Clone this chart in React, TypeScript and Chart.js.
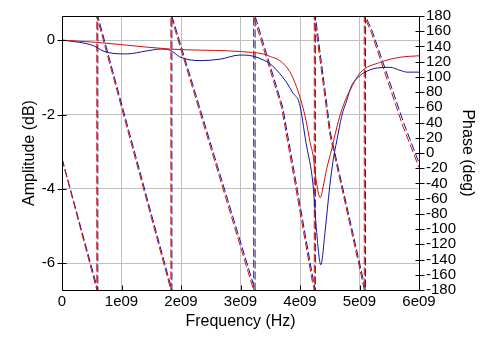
import React, { useEffect, useRef } from "react";
import { Chart, registerables } from "chart.js";

Chart.register(...registerables);

const GHZ = 1e9;

// Axis ticks
const xTickValues = [0, 1, 2, 3, 4, 5, 6];
const xTickLabels = ["0", "1e09", "2e09", "3e09", "4e09", "5e09", "6e09"];
const ampTicks = [-6, -4, -2, 0];
const phaseTicks = [-180, -160, -140, -120, -100, -80, -60, -40, -20, 0, 20, 40, 60, 80, 100, 120, 140, 160, 180];

// Amplitude (dB), frequency in GHz units (x 1e9)
const redAmpFreq = [0, 0.59, 1.0, 1.82, 2.82, 3.2, 3.38, 3.5, 3.66, 3.83, 3.94, 4.03, 4.1, 4.17, 4.22, 4.27, 4.34, 4.39, 4.45, 4.53, 4.65, 4.76, 4.84, 5.01, 5.34, 5.68, 6.0];
const redAmp = [0, -0.06, -0.12, -0.24, -0.29, -0.33, -0.37, -0.44, -0.55, -0.85, -1.25, -1.7, -2.15, -2.75, -3.1, -3.75, -4.24, -3.93, -3.45, -2.95, -2.15, -1.62, -1.35, -0.88, -0.6, -0.46, -0.42];

const blueAmpFreq = [0, 0.3, 0.53, 0.69, 0.89, 1.09, 1.42, 1.65, 1.82, 1.98, 2.32, 2.66, 2.99, 3.21, 3.38, 3.5, 3.66, 3.78, 3.88, 3.99, 4.1, 4.22, 4.28, 4.35, 4.42, 4.5, 4.56, 4.62, 4.7, 4.79, 4.86, 5.01, 5.09, 5.29, 5.51, 5.68, 5.8, 6.0];
const blueAmp = [0, -0.06, -0.15, -0.29, -0.36, -0.37, -0.29, -0.24, -0.27, -0.45, -0.55, -0.51, -0.4, -0.43, -0.53, -0.64, -0.9, -1.15, -1.42, -1.7, -2.75, -3.9, -5.17, -6.04, -5.17, -3.93, -3.2, -2.69, -2.05, -1.6, -1.25, -0.95, -0.86, -0.75, -0.73, -0.81, -0.86, -0.86];

// Phase (deg), wrapped to [-180, 180]
const redPhaseFreq = [0, 0.585, 0.585, 1.83, 1.83, 3.22, 3.22, 3.69, 4.21, 4.24, 4.24, 4.45, 4.5, 5.01, 5.08, 5.08, 5.2, 5.73, 6.0];
const redPhase = [-8, -180, 180, -180, 180, -180, 180, 60, -170, -180, 180, 55, 25, -154, -180, 180, 158, 35, -19];

const bluePhaseFreq = [0, 0.602, 0.602, 1.847, 1.847, 3.245, 3.245, 3.71, 4.225, 4.258, 4.258, 4.465, 4.515, 5.025, 5.1, 5.1, 5.215, 5.75, 6.0];
const bluePhase = [-7, -180, 180, -180, 180, -180, 180, 60, -168, -180, 180, 55, 25, -153, -180, 180, 160, 38, -13];

const RED = "#cc1111";
const BLUE = "#13139c";
const GRID = "#c0c0c0";

const toPoints = (f: number[], v: number[]) => f.map((x, i) => ({ x: x * GHZ, y: v[i] }));

const framePlugin = {
  id: "frameTicks",
  afterDraw(chart: any) {
    const { ctx, chartArea: ca, scales } = chart;
    const L = Math.round(ca.left) + 0.5;
    const R = Math.round(ca.right) + 0.5;
    const T = Math.round(ca.top) + 0.5;
    const B = Math.round(ca.bottom) + 0.5;
    ctx.save();
    ctx.strokeStyle = "#000";
    ctx.lineWidth = 1;
    ctx.beginPath();
    ctx.rect(L, T, R - L, B - T);
    ctx.stroke();
    ctx.beginPath();
    xTickValues.forEach((v) => {
      const px = Math.round(scales.x.getPixelForValue(v * GHZ)) + 0.5;
      ctx.moveTo(px, B - 5);
      ctx.lineTo(px, B);
    });
    ampTicks.forEach((v) => {
      const py = Math.round(scales.y.getPixelForValue(v)) + 0.5;
      ctx.moveTo(L - 5, py);
      ctx.lineTo(L + 4, py);
    });
    phaseTicks.forEach((v) => {
      const py = Math.round(scales.y2.getPixelForValue(v)) + 0.5;
      ctx.moveTo(R - 4, py);
      ctx.lineTo(R + 5, py);
    });
    ctx.stroke();
    ctx.restore();
  },
};

export default function App() {
  const ref = useRef<HTMLCanvasElement | null>(null);

  useEffect(() => {
    document.body.style.margin = "0";
    const canvas = ref.current;
    if (!canvas) return;
    Chart.defaults.font.family = "'Liberation Sans', Arial, sans-serif";
    Chart.defaults.color = "#000";

    const tickFont = { size: 15, family: "'Liberation Sans', Arial, sans-serif" };
    const titleFont = { size: 16, family: "'Liberation Sans', Arial, sans-serif" };

    const chart = new Chart(canvas, {
      type: "line",
      data: {
        datasets: [
          {
            label: "Amplitude A",
            data: toPoints(redAmpFreq, redAmp),
            borderColor: RED,
            borderWidth: 1,
            pointRadius: 0,
            cubicInterpolationMode: "monotone",
            yAxisID: "y",
          },
          {
            label: "Amplitude B",
            data: toPoints(blueAmpFreq, blueAmp),
            borderColor: BLUE,
            borderWidth: 1,
            pointRadius: 0,
            cubicInterpolationMode: "monotone",
            yAxisID: "y",
          },
          {
            label: "Phase A",
            data: toPoints(redPhaseFreq, redPhase),
            borderColor: RED,
            borderWidth: 1,
            borderDash: [8, 3],
            pointRadius: 0,
            yAxisID: "y2",
          },
          {
            label: "Phase B",
            data: toPoints(bluePhaseFreq, bluePhase),
            borderColor: BLUE,
            borderWidth: 1,
            borderDash: [8, 3],
            pointRadius: 0,
            yAxisID: "y2",
          },
        ],
      },
      options: {
        responsive: false,
        animation: false,
        events: [],
        layout: { padding: { top: 15, left: 0, right: 0, bottom: 0 } },
        plugins: { legend: { display: false }, tooltip: { enabled: false } },
        scales: {
          x: {
            type: "linear",
            min: 0,
            max: 6 * GHZ,
            afterBuildTicks: (s: any) => {
              s.ticks = xTickValues.map((v) => ({ value: v * GHZ }));
            },
            afterFit: (s: any) => {
              s.height = 71;
            },
            ticks: {
              autoSkip: false,
              maxRotation: 0,
              padding: 3,
              font: tickFont,
              color: "#000",
              callback: (_v: any, i: number) => xTickLabels[i],
            },
            grid: { color: GRID, drawTicks: false, lineWidth: 1 },
            border: { display: false },
            title: { display: true, text: "Frequency (Hz)", font: titleFont, color: "#000", padding: { top: 0, bottom: 30 } },
          },
          y: {
            type: "linear",
            position: "left",
            min: -6.72,
            max: 0.65,
            afterBuildTicks: (s: any) => {
              s.ticks = ampTicks.map((v) => ({ value: v }));
            },
            afterFit: (s: any) => {
              s.width = 62;
            },
            ticks: {
              autoSkip: false,
              padding: 7,
              font: tickFont,
              color: "#000",
              callback: (_v: any, i: number) => String(ampTicks[i]),
            },
            grid: { color: GRID, drawTicks: false, lineWidth: 1 },
            border: { display: false },
            title: { display: true, text: "Amplitude (dB)", font: titleFont, color: "#000", padding: { top: 20, bottom: 0 } },
          },
          y2: {
            type: "linear",
            position: "right",
            min: -180,
            max: 180,
            afterBuildTicks: (s: any) => {
              s.ticks = phaseTicks.map((v) => ({ value: v }));
            },
            afterFit: (s: any) => {
              s.width = 61;
            },
            ticks: {
              autoSkip: false,
              padding: 7,
              font: tickFont,
              color: "#000",
              callback: (_v: any, i: number) => String(phaseTicks[i]),
            },
            grid: { drawOnChartArea: false, drawTicks: false },
            border: { display: false },
            title: { display: true, text: "Phase (deg)", font: titleFont, color: "#000", padding: { top: 3, bottom: 0 } },
          },
        },
      },
      plugins: [framePlugin],
    } as any);

    return () => chart.destroy();
  }, []);

  return <canvas ref={ref} width={480} height={361} style={{ display: "block" }} />;
}
